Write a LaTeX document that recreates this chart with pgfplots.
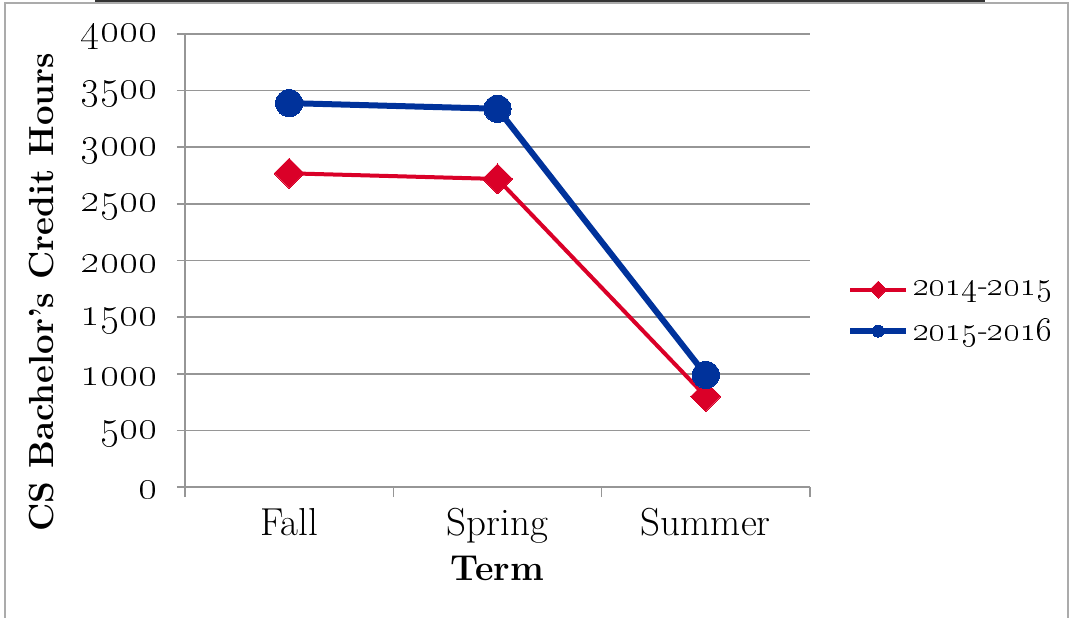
\documentclass[border=0pt]{standalone}
\usepackage{pgfplots}
\pgfplotsset{compat=1.18}
\definecolor{cred}{RGB}{218,0,40}
\definecolor{cblue}{RGB}{0,50,155}
\definecolor{gridgray}{RGB}{150,150,150}
\begin{document}
\begin{tikzpicture}
\useasboundingbox (0,0) rectangle (536.5pt,308.5pt);
\draw[gridgray!80, line width=1.2pt] (2.5pt,-5pt) -- (2.5pt,307pt) -- (534pt,307pt) -- (534pt,-5pt);
\draw[black!80, line width=1.5pt] (47.5pt,308.2pt) -- (492.5pt,308.2pt);
\begin{axis}[
  at={(92.5pt,65pt)}, anchor=south west,
  scale only axis, width=312.5pt, height=226.5pt,
  xmin=0.5, xmax=3.5, ymin=0, ymax=4000,
  xtick={1,2,3}, xticklabels={Fall,Spring,Summer},
  minor xtick={0.5,1.5,2.5,3.5},
  ytick={0,500,...,4000},
  yticklabels={\oldstylenums{0},\oldstylenums{500},\oldstylenums{1000},\oldstylenums{1500},\oldstylenums{2000},\oldstylenums{2500},\oldstylenums{3000},\oldstylenums{3500},\oldstylenums{4000}},
  axis x line*=bottom, axis y line*=left,
  axis line style={gridgray, line width=0.8pt, -},
  ymajorgrids, major grid style={gridgray, line width=0.8pt},
  tick align=outside,
  major x tick style={draw=none},
  minor x tick style={gridgray, line width=0.8pt},
  major y tick style={gridgray, line width=0.8pt},
  major tick length=4pt, minor tick length=5pt,
  tick label style={font=\fontsize{19.5}{22}\selectfont},
  xticklabel style={anchor=base, yshift=-20pt, inner sep=0pt},
  yticklabel style={anchor=east, inner sep=0pt, xshift=-9.5pt, yshift=-1.5pt},
  xlabel={Term},
  ylabel={CS Bachelor's Credit Hours},
  every axis x label/.style={at={(axis description cs:0.5,-0.179)}, anchor=center, font=\fontsize{18}{21}\bfseries},
  every axis y label/.style={at={(axis description cs:-0.229,0.43)}, rotate=90, anchor=center, font=\fontsize{17.4}{21}\bfseries},
  clip=false,
  legend style={at={(1.059,0.386)}, anchor=west, draw=none, fill=none,
    font=\fontsize{16}{19}\selectfont, row sep=6pt, inner sep=0pt,
    /tikz/every even column/.append style={column sep=0pt}},
  legend cell align=left,
  legend image code/.code={
    \draw[#1, mark repeat=2, mark phase=2, mark size=3pt] plot coordinates {(0pt,0pt) (14pt,0pt) (28pt,0pt)};
  },
]
\addplot[cred, line width=2pt, mark=square*, mark size=5.3pt, mark options={solid, rotate=45, fill=cred, draw=cred, line width=0pt}]
  coordinates {(1,2770) (2,2720) (3,800)};
\addlegendentry{\oldstylenums{2014}-\oldstylenums{2015}}
\addplot[cblue, line width=3pt, mark=*, mark size=6.8pt, mark options={solid, fill=cblue, draw=cblue, line width=0pt}]
  coordinates {(1,3390) (2,3340) (3,990)};
\addlegendentry{\oldstylenums{2015}-\oldstylenums{2016}}
\end{axis}
\end{tikzpicture}
\end{document}
